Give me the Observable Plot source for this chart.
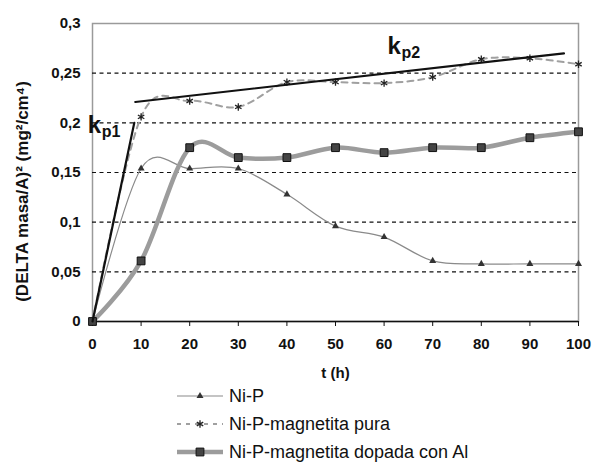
<!DOCTYPE html>
<html>
<head>
<meta charset="utf-8">
<script src="https://cdn.jsdelivr.net/npm/d3@7"></script>
<script src="https://cdn.jsdelivr.net/npm/@observablehq/plot@0.6"></script>
<style>
  html, body { margin: 0; padding: 0; background: #fff; }
  #wrap { position: relative; width: 592px; height: 462px; font-family: "Liberation Sans", Arial, sans-serif; }
  #legend { position: absolute; left: 177px; top: 382px; }
  .row { display: flex; align-items: center; height: 28px; }
  .row svg { width: 48px; height: 28px; flex: none; }
  .row span { font-size: 18px; color: #111; margin-left: 4px; white-space: nowrap; }
</style>
</head>
<body>
<div id="wrap"><div id="chart"></div><div id="legend"></div></div>
<script>
// ---- data ----
const hours = [0, 10, 20, 30, 40, 50, 60, 70, 80, 90, 100];
const niP = [0, 0.154, 0.154, 0.154, 0.128, 0.096, 0.085, 0.061, 0.058, 0.058, 0.058];
const niPMagPura = [0, 0.206, 0.222, 0.216, 0.241, 0.241, 0.240, 0.246, 0.264, 0.265, 0.259];
const niPMagDopada = [0, 0.061, 0.175, 0.165, 0.165, 0.175, 0.170, 0.175, 0.175, 0.185, 0.191];
const seriesNames = ["Ni-P", "Ni-P-magnetita pura", "Ni-P-magnetita dopada con Al"];
const kp1Line = [[0, 0], [8.6, 0.2]];
const kp2Line = [[8.8, 0.221], [97, 0.27]];
const kpLabels = [
  {x: -1.0, y: 0.190, main: "k", sub: "p1"},
  {x: 60.7, y: 0.2695, main: "k", sub: "p2"}
];
const xTicks = [0, 10, 20, 30, 40, 50, 60, 70, 80, 90, 100];
const yTicks = [0, 0.05, 0.1, 0.15, 0.2, 0.25, 0.3];
const gridTicks = [0.05, 0.1, 0.15, 0.2, 0.25];
const yTitle = "(DELTA masa/A)\u00B2 (mg\u00B2/cm\u2074)";
const xTitle = "t (h)";

const rows = (vals) => hours.map((h, i) => ({x: h, y: vals[i]}));
const dNiP = rows(niP), dPura = rows(niPMagPura), dDop = rows(niPMagDopada);
const fmt = d => String(d).replace(".", ",");

const chart = Plot.plot({
  width: 592,
  height: 385,
  marginTop: 23,
  marginBottom: 64,
  marginLeft: 92,
  marginRight: 14,
  style: {fontFamily: "'Liberation Sans', Arial, sans-serif", fontSize: "15px", color: "#111", background: "#fff", overflow: "visible"},
  x: {domain: [0, 100]},
  y: {domain: [0, 0.3]},
  marks: [
    Plot.frame({stroke: "#9a9a9a", strokeWidth: 1.5}),
    Plot.ruleY(gridTicks, {stroke: "#111", strokeDasharray: "4,3.5", strokeWidth: 1.2}),
    Plot.ruleY([0], {stroke: "#111", strokeWidth: 1.5}),
    Plot.axisX({ticks: xTicks, tickSize: 5, tickPadding: 12, tickFormat: d => String(d), fontWeight: "bold", fontSize: 15, stroke: "#111", label: null}),
    Plot.axisY({ticks: yTicks, tickSize: 0, tickPadding: 12, tickFormat: fmt, fontWeight: "bold", fontSize: 15, label: null}),
    Plot.text([yTitle], {frameAnchor: "left", textAnchor: "middle", rotate: -90, dx: -70, dy: 19, fontSize: 17, fontWeight: "bold", fill: "#111"}),
    Plot.text([xTitle], {frameAnchor: "bottom", textAnchor: "middle", dy: 56, fontSize: 15, fontWeight: "bold", fill: "#111"}),
    // series
    Plot.line(dNiP, {x: "x", y: "y", curve: "cardinal", tension: 0, stroke: "#8a8a8a", strokeWidth: 1.2}),
    Plot.line(dPura, {x: "x", y: "y", curve: "cardinal", tension: 0, stroke: "#a0a0a0", strokeWidth: 2, strokeDasharray: "6,5"}),
    Plot.line(dDop, {x: "x", y: "y", curve: "cardinal", tension: 0, stroke: "#9c9c9c", strokeWidth: 4.5}),
    Plot.dot(dNiP, {x: "x", y: "y", symbol: "triangle", r: 2.6, fill: "#333", stroke: "none"}),
    Plot.dot(dPura, {x: "x", y: "y", symbol: "asterisk", r: 3.5, stroke: "#222", strokeWidth: 1.3}),
    Plot.dot(dDop, {x: "x", y: "y", symbol: "square", r: 4.4, fill: "#444", stroke: "#111", strokeWidth: 1}),
    // kp lines
    Plot.line(kp1Line, {x: d => d[0], y: d => d[1], stroke: "#111", strokeWidth: 2.2}),
    Plot.line(kp2Line, {x: d => d[0], y: d => d[1], stroke: "#111", strokeWidth: 2.2}),
    Plot.text(kpLabels, {x: "x", y: "y", text: "main", textAnchor: "start", lineAnchor: "bottom", fontSize: 24, fontWeight: "bold", fill: "#111"}),
    Plot.text(kpLabels, {x: "x", y: "y", text: "sub", textAnchor: "start", lineAnchor: "bottom", dx: 14, dy: 4, fontSize: 16, fontWeight: "bold", fill: "#111"})
  ]
});
document.getElementById("chart").appendChild(chart);

// ---- legend ----
const legendStyles = [
  {stroke: "#8a8a8a", width: 1.2, dash: null, marker: "triangle"},
  {stroke: "#a0a0a0", width: 2, dash: "4,5", marker: "asterisk"},
  {stroke: "#9c9c9c", width: 4.5, dash: null, marker: "square"}
];
const leg = d3.select("#legend");
seriesNames.forEach((name, i) => {
  const s = legendStyles[i];
  const row = leg.append("div").attr("class", "row");
  const svg = row.append("svg").attr("viewBox", "0 0 48 28");
  svg.append("line").attr("x1", 0).attr("x2", 46).attr("y1", 14).attr("y2", 14)
    .attr("stroke", s.stroke).attr("stroke-width", s.width).attr("stroke-dasharray", s.dash);
  const sym = {triangle: d3.symbolTriangle, asterisk: d3.symbolAsterisk, square: d3.symbolSquare}[s.marker];
  const size = {triangle: Math.PI * 2.6 * 2.6, asterisk: Math.PI * 3.5 * 3.5, square: Math.PI * 4.4 * 4.4}[s.marker];
  const p = svg.append("path").attr("d", d3.symbol(sym, size)()).attr("transform", "translate(23,14)");
  if (s.marker === "triangle") p.attr("fill", "#333");
  else if (s.marker === "asterisk") p.attr("fill", "none").attr("stroke", "#222").attr("stroke-width", 1.3);
  else p.attr("fill", "#444").attr("stroke", "#111");
  row.append("span").text(name);
});
</script>
</body>
</html>
